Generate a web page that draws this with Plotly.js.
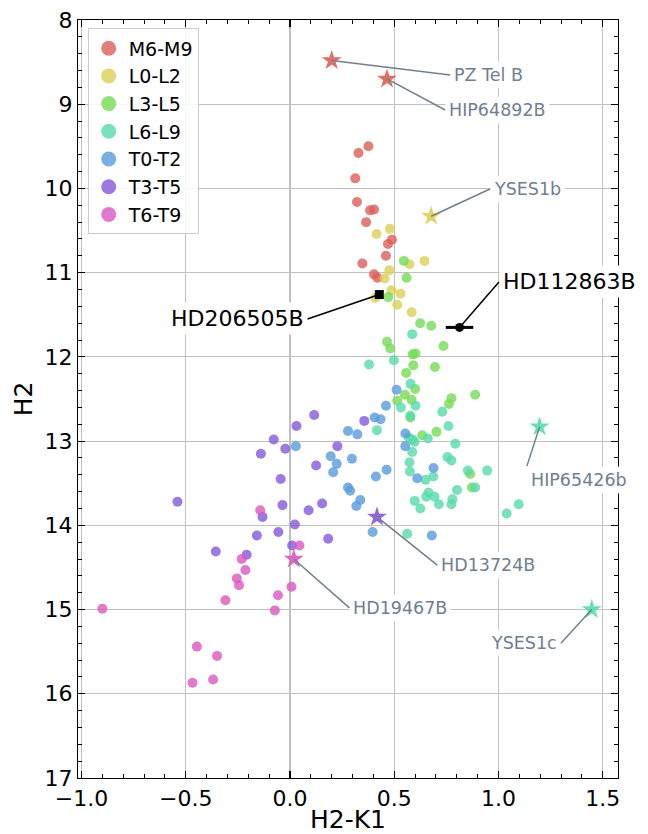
<!DOCTYPE html>
<html><head><meta charset="utf-8">
<script src="https://cdn.plot.ly/plotly-3.0.1.min.js"></script>
<style>html,body{margin:0;padding:0;background:#fff}#chart{width:648px;height:834px}</style>
</head><body><div id="chart"></div>
<script>
// ---- data ----
const categories = ["M6-M9","L0-L2","L3-L5","L6-L9","T0-T2","T3-T5","T6-T9"];

const m6m9_x = [0.376,0.328,0.313,0.321,0.384,0.403,0.365,0.489,0.470,0.460,0.347,0.403,0.419];
const m6m9_y = [9.50,9.58,9.88,10.16,10.26,10.25,10.40,10.61,10.66,10.80,10.89,11.02,11.06];

const l0l2_x = [0.415,0.479,0.573,0.645,0.476,0.454,0.487,0.530,0.409,0.514,0.583];
const l0l2_y = [10.54,10.48,10.90,10.86,10.97,11.07,11.21,11.25,11.30,11.38,11.47];

const l3l5_x = [0.546,0.559,0.471,0.624,0.677,0.465,0.481,0.736,0.588,0.602,0.591,0.695,0.557,0.600,0.551,0.583,0.514,0.774,0.762,0.888,0.577,0.702,0.634,0.864,0.872];
const l3l5_y = [10.86,11.06,11.29,11.60,11.63,11.82,11.90,11.87,11.97,11.96,12.10,12.12,12.19,12.38,12.45,12.51,12.52,12.49,12.56,12.45,12.72,12.89,12.93,13.39,13.55];

const l6l9_x = [0.586,0.498,0.379,0.578,0.602,0.532,0.730,0.577,0.417,0.760,0.661,0.570,0.588,0.597,0.793,0.586,0.755,0.774,0.573,0.575,0.687,0.650,0.853,0.946,0.801,0.888,0.664,0.653,0.693,0.598,0.625,0.714,0.779,0.774,1.097,1.039,0.562];
const l6l9_y = [11.73,12.04,12.09,12.32,12.58,12.60,12.65,12.70,12.87,12.82,12.97,12.96,12.98,13.01,13.03,13.13,13.19,13.23,13.25,13.36,13.42,13.46,13.35,13.35,13.58,13.55,13.61,13.66,13.66,13.71,13.80,13.75,13.69,13.75,13.75,13.86,14.10];

const t0t2_x = [0.511,0.460,0.406,0.434,0.278,0.323,0.553,0.553,0.028,0.195,0.297,0.224,0.207,0.688,0.463,0.412,0.610,0.278,0.288,0.337,0.318,0.396,0.680];
const t0t2_y = [12.39,12.58,12.72,12.74,12.88,12.92,12.91,13.06,13.06,13.18,13.21,13.27,13.37,13.32,13.34,13.42,13.44,13.55,13.59,13.70,13.77,14.08,14.12];

const t3t5_x = [0.116,0.031,-0.078,-0.023,-0.140,0.227,0.356,0.125,-0.045,-0.540,-0.036,0.089,0.154,-0.132,0.023,-0.159,-0.056,0.183,0.010,-0.356,-0.208];
const t3t5_y = [12.69,12.82,12.98,13.09,13.15,13.06,12.76,13.29,13.45,13.72,13.76,13.82,13.74,13.90,13.99,14.12,14.08,14.16,14.24,14.31,14.35];

const t6t9_x = [-0.143,0.045,-0.232,-0.214,-0.255,-0.245,-0.310,-0.058,0.007,-0.900,-0.073,-0.447,-0.350,-0.468,-0.369];
const t6t9_y = [13.82,14.24,14.40,14.53,14.63,14.71,14.89,14.83,14.73,14.99,15.01,15.44,15.55,15.87,15.83];

// known companions (stars) and their spectral-class index
const star_names = ["PZ Tel B","HIP64892B","YSES1b","HIP65426b","YSES1c","HD13724B","HD19467B"];
const star_x = [0.200,0.465,0.677,1.197,1.447,0.417,0.018];
const star_y = [8.48,8.70,10.33,12.83,15.00,13.90,14.40];
const star_cat = [0,0,1,3,3,5,6];

// targets
const target_names = ["HD206505B","HD112863B"];
const target_x = [0.428,0.813];
const target_y = [11.26,11.65];
const target_xerr = [0,0.066];

// ---- styling ----
const colors = ["#db5f57","#dbd057","#75db57","#57dbaa","#579bdb","#8557db","#db57c0"];
const catX = [m6m9_x,l0l2_x,l3l5_x,l6l9_x,t0t2_x,t3t5_x,t6t9_x];
const catY = [m6m9_y,l0l2_y,l3l5_y,l6l9_y,t0t2_y,t3t5_y,t6t9_y];
const FONT = "DejaVu Sans, sans-serif";

const traces = [];
categories.forEach((c,i)=>{
  traces.push({type:"scatter",mode:"markers",x:catX[i],y:catY[i],name:c,legendgroup:c,showlegend:false,
    marker:{color:colors[i],size:10,opacity:0.8,line:{width:0}},hoverinfo:"x+y+name"});
});
categories.forEach((c,i)=>{
  traces.push({type:"scatter",mode:"markers",x:[null],y:[null],name:c,legendgroup:c,showlegend:true,
    marker:{color:colors[i],size:15,opacity:0.8,line:{width:0}}});
});
traces.push({type:"scatter",mode:"markers",x:star_x,y:star_y,text:star_names,showlegend:false,
  marker:{symbol:"star",size:15,color:star_cat.map(k=>colors[k]),opacity:0.9,line:{width:0}}});
traces.push({type:"scatter",mode:"markers",x:[target_x[0]],y:[target_y[0]],showlegend:false,
  marker:{symbol:"square",size:9,color:"black"}});
traces.push({type:"scatter",mode:"markers",x:[target_x[1]],y:[target_y[1]],showlegend:false,
  error_x:{type:"data",array:[target_xerr[1]],thickness:3,width:0,color:"black"},
  marker:{symbol:"circle",size:9,color:"black"}});

// label placement: [tailX, tailY, xanchor, yanchor] in data coords
const starLabelPos = [
  [0.768,8.653,"left","middle"],
  [0.744,9.069,"left","middle"],
  [0.959,10.007,"left","middle"],
  [1.136,13.297,"left","top"],
  [1.299,15.40,"right","middle"],
  [0.706,14.473,"left","middle"],
  [0.285,14.98,"left","middle"]
];
const targetLabelPos = [
  [0.084,11.55,"right","middle"],
  [1.002,11.11,"left","middle"]
];
const annotations = [];
star_names.forEach((n,i)=>{
  const p = starLabelPos[i];
  annotations.push({x:star_x[i],y:star_y[i],xref:"x",yref:"y",ax:p[0],ay:p[1],axref:"x",ayref:"y",
    text:n,showarrow:true,arrowhead:0,arrowwidth:1.5,arrowcolor:"#708090",standoff:0,
    xanchor:p[2],yanchor:p[3],bgcolor:"white",borderpad:3,
    font:{family:FONT,size:17.5,color:"#708090"}});
});
target_names.forEach((n,i)=>{
  const p = targetLabelPos[i];
  annotations.push({x:target_x[i],y:target_y[i],xref:"x",yref:"y",ax:p[0],ay:p[1],axref:"x",ayref:"y",
    text:n,showarrow:true,arrowhead:0,arrowwidth:1.5,arrowcolor:"black",standoff:0,
    xanchor:p[2],yanchor:p[3],bgcolor:"white",borderpad:3,
    font:{family:FONT,size:22,color:"black"}});
});

const axisCommon = {
  showline:true,linecolor:"black",linewidth:1.2,mirror:"allticks",
  ticks:"inside",ticklen:7,tickwidth:1.2,tickcolor:"black",
  showgrid:true,gridcolor:"#c0c0c0",gridwidth:1.2,zeroline:false,
  tickfont:{family:FONT,size:22,color:"black"},
  minor:{ticks:"inside",ticklen:4,tickwidth:1,tickcolor:"black",showgrid:false}
};

const layout = {
  width:648,height:834,
  margin:{l:78,r:30,t:20,b:56},
  paper_bgcolor:"white",plot_bgcolor:"white",
  font:{family:FONT},
  xaxis:Object.assign({},axisCommon,{range:[-1.017,1.573],tick0:-1,dtick:0.5,tickformat:".1f",
    minor:Object.assign({},axisCommon.minor,{dtick:0.1}),
    title:{text:"H2-K1",font:{family:FONT,size:25,color:"black"},standoff:2}}),
  yaxis:Object.assign({},axisCommon,{range:[17,8],dtick:1,
    minor:Object.assign({},axisCommon.minor,{dtick:0.2}),
    title:{text:"H2",font:{family:FONT,size:25,color:"black"},standoff:4}}),
  legend:{x:0.018,y:0.989,xanchor:"left",yanchor:"top",bgcolor:"rgba(255,255,255,0.85)",
    bordercolor:"#cccccc",borderwidth:1,font:{family:FONT,size:19,color:"black"},
    traceorder:"grouped",tracegroupgap:0,itemsizing:"trace"},
  annotations:annotations,
  showlegend:true
};

Plotly.newPlot("chart",traces,layout,{displayModeBar:false,staticPlot:true});
</script>
</body></html>
